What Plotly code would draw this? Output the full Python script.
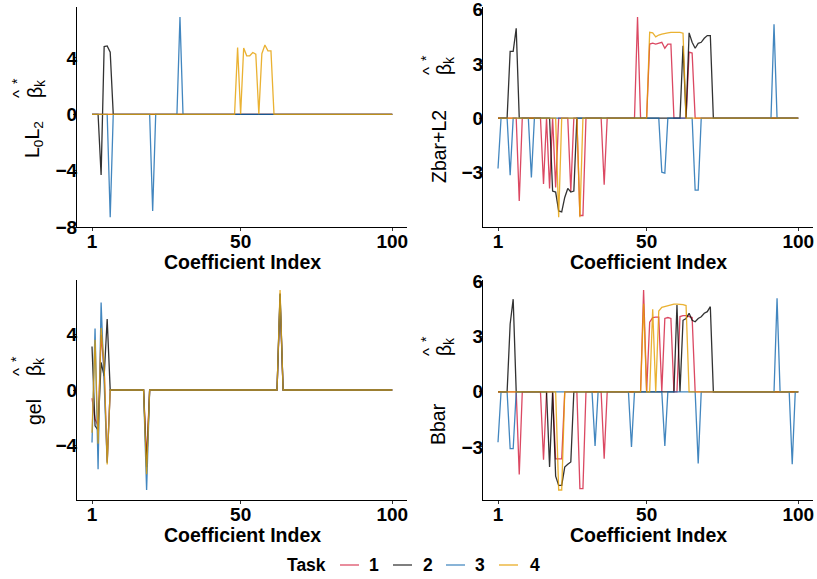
import plotly.graph_objects as go

# ---------------- data (index of non-zero coefficient, value) ----------------
coef_index = list(range(1, 101))
task_names = ["1", "2", "3", "4"]
task_colors = ["#D31B3C", "#000000", "#1469B0", "#E69F00"]
legend_colors = ["rgba(211,27,60,0.5)", "rgba(0,0,0,0.5)", "rgba(20,105,176,0.5)", "rgba(230,159,0,0.55)"]

# Panel 1: L0L2
l0l2_t1_idx = []
l0l2_t1_val = []
l0l2_t2_idx = [4, 5, 6, 7]
l0l2_t2_val = [-4.3, 4.8, 4.85, 4.4]
l0l2_t3_idx = [7, 21, 30]
l0l2_t3_val = [-7.3, -6.85, 6.9]
l0l2_t4_idx = [49, 51, 52, 53, 54, 55, 57, 58, 59, 60]
l0l2_t4_val = [4.73, 4.7, 4.15, 4.15, 4.38, 4.26, 4.3, 4.92, 4.5, 4.5]

# Panel 2: Zbar+L2
zbar_t1_idx = [8, 16, 18, 20, 25, 28, 29, 36, 47, 51, 52, 53, 54, 55, 56, 57, 58, 64, 65]
zbar_t1_val = [-4.6, -3.65, -3.9, -3.85, -4.05, -5.4, -5.4, -3.7, 5.6, 4.1, 4.15, 4.1, 4.15, 4.2, 3.87, 4.1, 4.1, 3.65, 3.6]
zbar_t2_idx = [5, 6, 7, 19, 20, 21, 22, 23, 24, 25, 26, 62, 64, 65, 66, 67, 68, 69, 70, 71]
zbar_t2_val = [3.7, 3.7, 4.97, -4.05, -4.1, -5.15, -5.2, -4.4, -3.9, -4.1, -4.05, 4.0, 4.72, 4.2, 3.87, 4.14, 4.2, 4.42, 4.57, 4.57]
zbar_t3_idx = [1, 5, 12, 55, 56, 66, 67, 92]
zbar_t3_val = [-2.8, -3.17, -3.3, -3.0, -3.05, -4.0, -4.0, 5.2]
zbar_t4_idx = [21, 28, 51, 52, 53, 54, 55, 56, 57, 58, 59, 60, 61, 62]
zbar_t4_val = [-5.5, -5.5, 4.75, 4.72, 4.5, 4.6, 4.65, 4.7, 4.72, 4.75, 4.75, 4.75, 4.75, 4.7]

# Panel 3: gel
gel_t1_idx = [1, 2, 3, 4, 5, 6, 19, 63]
gel_t1_val = [-0.6, -2.1, -2.6, 4.0, 1.5, -5.2, -5.0, 6.6]
gel_t2_idx = [1, 2, 3, 4, 5, 6, 19, 63]
gel_t2_val = [3.15, -2.6, -2.9, 2.0, 1.0, 5.15, -5.6, 7.0]
gel_t3_idx = [1, 2, 3, 4, 5, 6, 19, 63]
gel_t3_val = [-3.8, 4.45, -5.75, 6.35, 0.5, -5.3, -7.25, 6.9]
gel_t4_idx = [1, 2, 3, 4, 5, 6, 19, 63]
gel_t4_val = [-3.1, 3.65, -3.9, 4.5, 1.8, -5.4, -6.1, 7.25]

# Panel 4: Bbar
bbar_t1_idx = [8, 16, 20, 21, 22, 28, 29, 36, 49, 51, 52, 53, 54, 56, 57, 58, 61, 62, 63, 64, 65]
bbar_t1_val = [-4.5, -3.7, -3.65, -3.65, -3.65, -5.27, -5.27, -3.65, 5.55, 3.8, 4.05, 4.07, 4.07, 4.0, 4.05, 4.0, 4.1, 4.15, 4.15, 4.1, 4.05]
bbar_t2_idx = [5, 6, 18, 20, 21, 22, 23, 24, 25, 60, 62, 63, 64, 65, 66, 67, 68, 69, 70, 71]
bbar_t2_val = [3.7, 5.05, -4.1, -4.6, -5.1, -5.1, -4.1, -3.95, -3.82, 4.73, 3.9, 4.0, 4.28, 3.9, 3.82, 4.0, 4.09, 4.28, 4.37, 4.64]
bbar_t3_idx = [1, 5, 6, 33, 45, 56, 67, 93, 98]
bbar_t3_val = [-2.75, -3.1, -3.1, -2.95, -3.0, -2.95, -3.9, 5.1, -3.95]
bbar_t4_idx = [21, 22, 49, 52, 54, 55, 56, 57, 58, 59, 60, 61, 62, 63]
bbar_t4_val = [-5.35, -5.35, 4.8, 4.5, 4.4, 4.6, 4.65, 4.7, 4.75, 4.78, 4.78, 4.78, 4.75, 4.7]

x_tickvals = [1, 50, 100]
l0l2_yticks = [-8, -4, 0, 4]
zbar_yticks = [-3, 0, 3, 6]
gel_yticks = [-4, 0, 4]
bbar_yticks = [-3, 0, 3, 6]

method_labels = ["L<sub>0</sub>L<sub>2</sub>", "Zbar+L2", "gel", "Bbar"]
x_title = "Coefficient Index"
legend_title = "Task"


def full_series(ix, vals):
    y = [0.0] * len(coef_index)
    for i, v in zip(ix, vals):
        y[i - 1] = v
    return y


panels = [
    [(l0l2_t1_idx, l0l2_t1_val), (l0l2_t2_idx, l0l2_t2_val), (l0l2_t3_idx, l0l2_t3_val), (l0l2_t4_idx, l0l2_t4_val)],
    [(zbar_t1_idx, zbar_t1_val), (zbar_t2_idx, zbar_t2_val), (zbar_t3_idx, zbar_t3_val), (zbar_t4_idx, zbar_t4_val)],
    [(gel_t1_idx, gel_t1_val), (gel_t2_idx, gel_t2_val), (gel_t3_idx, gel_t3_val), (gel_t4_idx, gel_t4_val)],
    [(bbar_t1_idx, bbar_t1_val), (bbar_t2_idx, bbar_t2_val), (bbar_t3_idx, bbar_t3_val), (bbar_t4_idx, bbar_t4_val)],
]
panel_yticks = [l0l2_yticks, zbar_yticks, gel_yticks, bbar_yticks]

# ---------------- layout geometry (page pixels; body margin removed below) ----------------
W, H = 817, 579


def px(X):
    return X / W


def py(Y):
    return 1 - Y / H


panel_box = [  # left, right, top, bottom in page pixels
    (77, 407.3, 7, 227.3),
    (483, 813.3, 7, 227.3),
    (77, 407.3, 280, 500),
    (483, 813.3, 280, 500),
]

FONT = "Liberation Sans, Arial, sans-serif"
fig = go.Figure()
layout = dict(
    width=W, height=H,
    margin=dict(l=0, r=0, t=0, b=0),
    paper_bgcolor="white", plot_bgcolor="white",
    showlegend=False,
    font=dict(family=FONT, color="black"),
)

xr = [1 - 0.05 * 99, 100 + 0.05 * 99]
for p, series in enumerate(panels):
    ax = "" if p == 0 else str(p + 1)
    all_vals = [0.0]
    for k, (ix, vals) in enumerate(series):
        y = full_series(ix, vals)
        all_vals += y
        fig.add_trace(go.Scatter(
            x=coef_index, y=y, mode="lines", name=task_names[k],
            line=dict(color=task_colors[k], width=1.3), opacity=0.8,
            xaxis="x" + ax, yaxis="y" + ax, hoverinfo="skip"))
    lo, hi = min(all_vals), max(all_vals)
    span = hi - lo
    yr = [lo - 0.05 * span, hi + 0.05 * span]
    L, R, T, B = panel_box[p]
    common = dict(showline=True, linecolor="black", linewidth=1.3, ticks="outside", ticklen=3,
                  tickcolor="#333333", tickwidth=1, showgrid=False, zeroline=False,
                  ticklabeloverflow="allow",
                  tickfont=dict(family=FONT, size=19, color="black", weight="bold"), automargin=False)
    layout["xaxis" + ax] = dict(common, domain=[px(L), px(R)], range=xr, tickvals=x_tickvals,
                                anchor="y" + ax, ticklabelstandoff=-6)
    layout["yaxis" + ax] = dict(common, domain=[py(B), py(T)], range=yr, tickvals=panel_yticks[p],
                                anchor="x" + ax, ticklabelstandoff=-8)

fig.update_layout(**layout)


def ann(text, X, Y, size, angle=0, bold=False):
    fig.add_annotation(x=px(X), y=py(Y), xref="paper", yref="paper", text=text,
                       showarrow=False, textangle=angle, xanchor="center", yanchor="middle",
                       font=dict(family=FONT, size=size, color="black", weight="bold" if bold else "normal"))


# x axis titles
for p in range(4):
    L, R, T, B = panel_box[p]
    ann(x_title, (L + R) / 2, B + 34.5, 19.5, bold=True)

# y axis titles: method label + beta-hat*_k (page pixel positions)
ylab_main = [(33, 140), (439, 146), (34, 412), (438, 424)]
ylab_beta = [(35, 93), (444, 70), (34, 371), (444, 351)]
for p in range(4):
    mx, my = ylab_main[p]
    ann(method_labels[p], mx, my, 19.5, angle=-90)
    bx, by = ylab_beta[p]
    ann("β", bx, by, 19.5, angle=-90)
    ann("^", bx - 15, by + 1, 17, angle=-90)
    ann("*", bx - 18, by - 12, 14, angle=-90)
    ann("k", bx + 5, by - 10, 14, angle=-90)

# ---------------- manual legend ----------------
leg_Y = 565
ann("<b>" + legend_title + "</b>", 306.5, leg_Y, 17.5)
key_x0 = [340, 393, 446, 499]
label_x = [374, 428, 480, 535]
for k in range(4):
    fig.add_shape(type="line", xref="paper", yref="paper",
                  x0=px(key_x0[k]), x1=px(key_x0[k] + 19), y0=py(leg_Y), y1=py(leg_Y),
                  line=dict(color=legend_colors[k], width=2))
    ann("<b>" + task_names[k] + "</b>", label_x[k], leg_Y, 17.5)

# the page body has a default 8px margin; remove it so the figure fills the window exactly
fig.write_html("out.html", config={"displayModeBar": False},
               post_script="document.body.style.margin='0px';document.body.style.overflow='hidden';")
